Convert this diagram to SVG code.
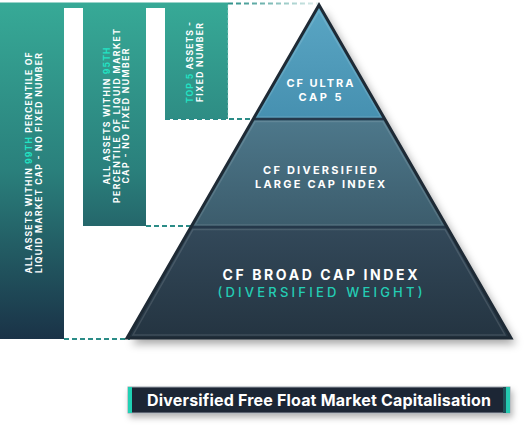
<svg xmlns="http://www.w3.org/2000/svg" width="531" height="430" viewBox="0 0 531 430">
<defs>
<linearGradient id="barG" gradientUnits="userSpaceOnUse" x1="0" y1="0" x2="0" y2="340">
<stop offset="0" stop-color="#37aa97"/>
<stop offset="0.5" stop-color="#2a807c"/>
<stop offset="1" stop-color="#1a3247"/>
</linearGradient>
<linearGradient id="topG" x1="0" y1="0" x2="0" y2="1">
<stop offset="0" stop-color="#5aa6c4"/>
<stop offset="1" stop-color="#4690b0"/>
</linearGradient>
<linearGradient id="midG" x1="0" y1="0" x2="0" y2="1">
<stop offset="0" stop-color="#4d788b"/>
<stop offset="1" stop-color="#3c5c6c"/>
</linearGradient>
<linearGradient id="botG" x1="0" y1="0" x2="0" y2="1">
<stop offset="0" stop-color="#33495a"/>
<stop offset="1" stop-color="#243441"/>
</linearGradient>
<linearGradient id="fadeG" gradientUnits="userSpaceOnUse" x1="228" y1="0" x2="318" y2="0">
<stop offset="0" stop-color="#2b8f88"/>
<stop offset="1" stop-color="#2b8f88" stop-opacity="0.15"/>
</linearGradient>
<filter id="shadow" x="-20%" y="-20%" width="140%" height="140%">
<feDropShadow dx="5" dy="6" stdDeviation="4" flood-color="#000" flood-opacity="0.35"/>
</filter>
<filter id="shadow2" x="-10%" y="-50%" width="120%" height="200%">
<feDropShadow dx="2" dy="4" stdDeviation="3" flood-color="#000" flood-opacity="0.3"/>
</filter>
</defs>
<style>
.dash{fill:none;stroke:#2b8c87;stroke-width:2;stroke-dasharray:5 3}
.bt{font-family:Inter,"Liberation Sans",sans-serif;font-weight:700;font-size:8.6px;fill:#ffffff}
.hl{fill:#22e3c4}
.pt{font-family:Inter,"Liberation Sans",sans-serif;font-weight:700;fill:#ffffff;text-anchor:middle}
.sep{stroke:#25384a;stroke-width:2.5}
.bev{fill:none;stroke:#ffffff;stroke-opacity:0.12;stroke-width:1.5}
</style>

<g id="bars">
<path fill="url(#barG)" d="M0,2.5H228V119H165V8H146V226H83V8H64V339H0Z"/>
</g>

<g id="connectors">
<line class="dash" x1="228" y1="3.5" x2="318" y2="3.5" style="stroke:url(#fadeG)"/>
<line class="dash" x1="165" y1="119" x2="256" y2="119"/>
<line class="dash" x1="146" y1="226" x2="193" y2="226"/>
<line class="dash" x1="64" y1="339" x2="130" y2="339"/>
<line class="dash" x1="228" y1="5" x2="228" y2="117" style="stroke:#bfe6df;stroke-width:1;stroke-opacity:0.5;stroke-dasharray:3 2"/>
</g>

<g id="bar-99">
<text class="bt" transform="translate(32,163) rotate(-90)" text-anchor="middle" textLength="221">ALL ASSETS WITHIN <tspan class="hl">99TH</tspan> PERCENTILE OF</text>
<text class="bt" transform="translate(42,163) rotate(-90)" text-anchor="middle" textLength="220">LIQUID MARKET CAP - NO FIXED NUMBER</text>
</g>
<g id="bar-95">
<text class="bt" transform="translate(110,116) rotate(-90)" text-anchor="middle" textLength="137">ALL ASSETS WITHIN <tspan class="hl">95TH</tspan></text>
<text class="bt" transform="translate(119.5,116) rotate(-90)" text-anchor="middle" textLength="174">PERCENTILE OF LIQUID MARKET</text>
<text class="bt" transform="translate(129,116) rotate(-90)" text-anchor="middle" textLength="135">CAP - NO FIXED NUMBER</text>
</g>
<g id="bar-top5">
<text class="bt" transform="translate(193,62.5) rotate(-90)" text-anchor="middle" textLength="81"><tspan class="hl">TOP 5</tspan> ASSETS -</text>
<text class="bt" transform="translate(203,62.5) rotate(-90)" text-anchor="middle" textLength="79">FIXED NUMBER</text>
</g>

<g id="pyramid">
<polygon points="319,5 127,338 511,338" fill="#1e2a35" filter="url(#shadow)"/>
<g id="ultra">
<polygon points="319,5 253,119 385,119" fill="url(#topG)"/>
<polygon points="319,11 257,117 381,117" class="bev"/>
<text class="pt" x="320" y="87" font-size="11" textLength="67">CF ULTRA</text>
<text class="pt" x="320" y="101" font-size="11" textLength="43">CAP 5</text>
</g>
<g id="large">
<polygon points="253,119 385,119 447,227 191,227" fill="url(#midG)"/>
<polygon points="255,121.5 383,121.5 443,225 195,225" class="bev"/>
<text class="pt" x="320" y="174" font-size="11" textLength="114">CF DIVERSIFIED</text>
<text class="pt" x="320" y="187.5" font-size="11" textLength="130">LARGE CAP INDEX</text>
</g>
<g id="broad">
<polygon points="191,227 447,227 511,338 127,338" fill="url(#botG)"/>
<polygon points="193,229.5 445,229.5 505,335 133,335" class="bev"/>
<text class="pt" x="320" y="280" font-size="14" textLength="195">CF BROAD CAP INDEX</text>
<text class="pt" x="320" y="297" font-size="13" style="font-weight:500;fill:#24cdb5" textLength="205">(DIVERSIFIED WEIGHT)</text>
</g>
<line class="sep" x1="253" y1="119" x2="385" y2="119"/>
<line class="sep" x1="191" y1="227" x2="447" y2="227"/>
<polygon points="319,5 127,338 511,338" fill="none" stroke="#1e2a35" stroke-width="3" stroke-linejoin="miter"/>
</g>

<g id="caption">
<rect x="128" y="387" width="382" height="26" fill="#1d2535" stroke="#9aa4ab" stroke-width="1" filter="url(#shadow2)"/>
<rect x="128" y="387" width="4" height="26" fill="#20d1b4"/>
<rect x="503" y="387" width="3" height="26" fill="#1f4f57"/>
<rect x="506" y="387" width="4" height="26" fill="#24c9b0"/>
<text x="319" y="406" text-anchor="middle" font-family="Inter,'Liberation Sans',sans-serif" font-weight="700" font-size="16" fill="#ffffff" textLength="344">Diversified Free Float Market Capitalisation</text>
</g>
</svg>
